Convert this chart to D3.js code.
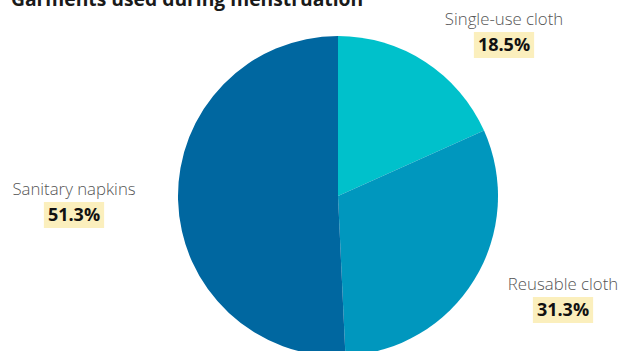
<!DOCTYPE html>
<html>
<head>
<meta charset="utf-8">
<script src="https://cdn.jsdelivr.net/npm/d3@7"></script>
<style>
    body { margin: 0; background: #fff; }
    text { font-family: "Open Sans", sans-serif; }
</style>
</head>
<body>
<div id="chart"></div>
<script>
// data
const categories = ["Single-use cloth", "Reusable cloth", "Sanitary napkins"];
const shares = [18.5, 31.3, 51.3];
const sliceColors = ["#00c1cb", "#0097be", "#0067a0"];

// where each label sits (layout, not data)
const labelAnchors = [
    {x: 504, y: 25},
    {x: 563, y: 290},
    {x: 74, y: 195}
];

const width = 623, height = 351;
const cx = 338, cy = 196, radius = 160;

let svg = d3.select("#chart").append("svg")
    .attr("width", width)
    .attr("height", height);

// title, cut off at the top like the original
svg.append("text")
    .attr("x", 11)
    .attr("y", 6)
    .attr("font-size", 19.3)
    .attr("font-weight", 700)
    .attr("fill", "#1a1a1a")
    .text("Garments used during menstruation");

let displayData = categories.map((c, i) => ({cat: c, value: shares[i], color: sliceColors[i], anchor: labelAnchors[i]}));

let pie = d3.pie()
    .sort(null)
    .value(d => d.value);

let arc = d3.arc()
    .innerRadius(0)
    .outerRadius(radius);

let g = svg.append("g")
    .attr("transform", `translate(${cx},${cy})`);

g.selectAll(".slice")
    .data(pie(displayData))
    .enter()
    .append("path")
    .attr("class", "slice")
    .attr("d", arc)
    .attr("fill", d => d.data.color);

// labels
let labels = svg.selectAll(".lab")
    .data(displayData)
    .enter()
    .append("g")
    .attr("class", "lab")
    .attr("transform", d => `translate(${d.anchor.x},${d.anchor.y})`);

labels.append("text")
    .attr("text-anchor", "middle")
    .attr("font-size", 16.8)
    .attr("font-weight", 300)
    .attr("fill", "#555")
    .text(d => d.cat);

labels.each(function(d) {
    let lab = d3.select(this);
    let t = lab.append("text")
        .attr("text-anchor", "middle")
        .attr("y", 26)
        .attr("font-size", 18)
        .attr("font-weight", 700)
        .attr("fill", "#111")
        .text(d3.format(".1f")(d.value) + "%");
    let bb = t.node().getBBox();
    lab.insert("rect", "text:last-child")
        .attr("x", bb.x - 4)
        .attr("y", 7)
        .attr("width", bb.width + 8)
        .attr("height", 26)
        .attr("fill", "#fbefbd");
});
</script>
</body>
</html>
